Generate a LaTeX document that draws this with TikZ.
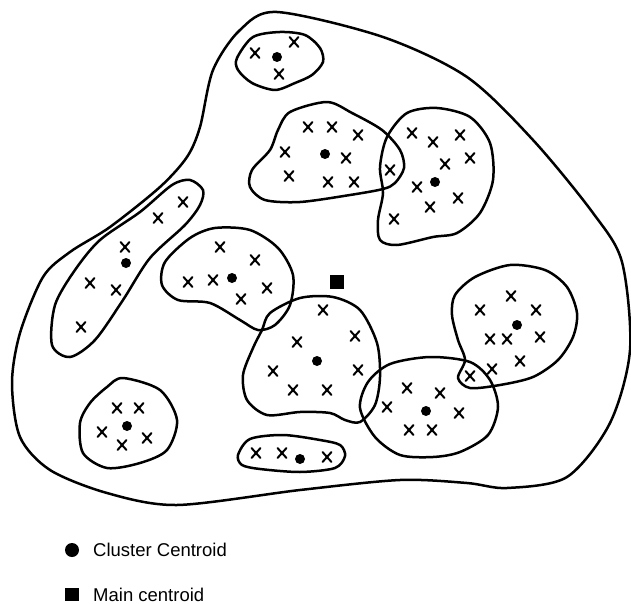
\documentclass[tikz,border=0pt]{standalone}
\usepackage{fontspec}
\setmainfont{Liberation Sans}
\tikzset{
	blob/.style={line width=2.5pt},
	cross/.pic={\draw[line width=2pt] (-4.5,-5)--(4.5,5) (4.5,-5)--(-4.5,5);},
	legend/.style={anchor=base west,inner sep=0pt}
}
\begin{document}
\begin{tikzpicture}[x=1pt,y=-1pt,line join=round,line cap=round,font=\fontsize{18.5}{21}\selectfont]
			\useasboundingbox (0,0) rectangle (631,604);
			% whole data set
			\draw[blob] plot[smooth cycle] coordinates {(277,12) (383,37) (467,77) (533,140) (593,213) (622,262) (630,350) (610,423) (567,477) (507,488) (467,483) (400,480) (300,490) (177,505) (107,493) (50,470) (20,437) (12,383) (20,333) (43,277) (70,252) (110,227) (160,187) (187,157) (200,127) (213,70) (240,30)};
			% clusters
			\draw[blob] plot[smooth cycle] coordinates {(237,58) (253,37) (280,32) (305,35) (320,48) (323,62) (312,75) (295,83) (275,90) (252,83) (238,70)};
			\draw[blob] plot[smooth cycle] coordinates {(290,112) (327,102) (352,113) (382,130) (400,150) (404,168) (395,183) (383,189) (350,195) (300,202) (265,200) (250,187) (252,170) (270,150) (278,130)};
			\draw[blob] plot[smooth cycle] coordinates {(437,108) (470,117) (490,143) (493,180) (480,213) (457,233) (433,237) (397,245) (380,240) (378,220) (383,193) (380,167) (387,137) (407,113)};
			\draw[blob] plot[smooth cycle] coordinates {(190,180) (203,190) (200,205) (185,225) (150,258) (123,300) (95,340) (70,357) (52,345) (55,305) (75,270) (100,240) (140,212) (172,185)};
			\draw[blob] plot[smooth cycle] coordinates {(165,262) (190,238) (215,228) (250,230) (278,248) (293,275) (290,305) (275,325) (258,330) (240,320) (210,303) (178,300) (162,285)};
			\draw[blob] plot[smooth cycle] coordinates {(270,313) (300,298) (333,297) (360,310) (377,343) (380,377) (375,405) (360,422) (345,420) (330,413) (300,412) (267,415) (247,400) (243,375) (253,348) (262,330)};
			\draw[blob] plot[smooth cycle] coordinates {(360,408) (368,382) (390,364) (430,357) (470,362) (490,380) (498,407) (488,435) (460,452) (433,457) (400,455) (375,437)};
			\draw[blob] plot[smooth cycle] coordinates {(510,265) (545,270) (567,287) (577,313) (573,337) (558,360) (533,377) (500,385) (470,388) (458,378) (465,360) (458,340) (452,315) (455,295) (475,277)};
			\draw[blob] plot[smooth cycle] coordinates {(123,378) (160,390) (177,420) (167,450) (140,463) (107,468) (83,453) (80,423) (90,403) (107,387)};
			\draw[blob] plot[smooth cycle] coordinates {(238,455) (250,439) (283,435) (320,440) (340,445) (345,456) (335,468) (300,472) (260,469) (242,465)};
			% data points
			\foreach \p in {(255,53),(294,42),(279,74),
				(308,127),(285,152),(289,176),(332,127),(358,135),(346,158),(328,182),(354,182),(390,170),
				(412,133),(433,142),(460,135),(470,158),(445,164),(417,187),(458,198),(430,207),(394,219),
				(183,202),(158,218),(125,247),(90,283),(116,290),(81,327),
				(220,247),(255,260),(188,282),(213,280),(267,288),(241,299),
				(323,310),(355,336),(358,370),(327,390),(297,342),(273,371),(293,390),
				(387,407),(407,388),(440,393),(459,413),(409,430),(432,430),
				(511,296),(480,310),(536,310),(490,339),(507,339),(540,337),(520,361),(492,369),(470,376),
				(117,408),(139,408),(102,432),(147,438),(122,445),
				(256,453),(282,453),(327,457)}
				\pic at \p {cross};
			% cluster centroids
			\foreach \p in {(277,57),(325,154),(435,182),(126,263),(232,278),(317,361),(426,411),(517,325),(127,426),(300,459)}
				\fill \p circle (5);
			% main centroid
			\fill (330,275) rectangle (344,289);
			% legend
			\fill (72,550) circle (7);
			\node[legend] (lcc) at (93,556) {Cluster Centroid};
			\fill (65,588) rectangle (79,601);
			\node[legend] (lmc) at (93,601) {Main centroid};
	\end{tikzpicture}
\end{document}
